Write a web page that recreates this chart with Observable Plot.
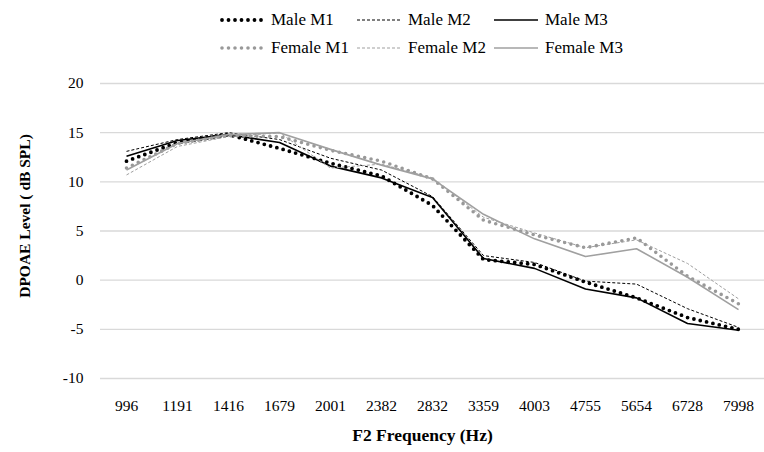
<!DOCTYPE html>
<html><head><meta charset="utf-8">
<script src="https://cdn.jsdelivr.net/npm/d3@7"></script>
<script src="https://cdn.jsdelivr.net/npm/@observablehq/plot@0.6"></script>
<style>
body{margin:0;background:#fff;font-family:'Liberation Serif','DejaVu Serif',serif;}
#legend{position:relative;width:764px;height:62px;}
.item{position:absolute;display:flex;align-items:center;font-size:17px;color:#000;white-space:nowrap;height:20px;font-family:'Liberation Serif','DejaVu Serif',serif;}
.item svg{margin-right:7px;}
svg text{font-family:'Liberation Serif','DejaVu Serif',serif;}
</style></head><body>
<div id="legend"></div><div id="chart"></div>
<script>
const frequencies = ["996","1191","1416","1679","2001","2382","2832","3359","4003","4755","5654","6728","7998"];
const yTicks = [-10,-5,0,5,10,15,20];
const maleM1   = [12.1, 14.0, 14.8, 13.4, 11.9, 10.6, 7.6, 2.1, 1.6, -0.2, -1.8, -3.8, -5.0];
const maleM2   = [13.1, 14.3, 15.0, 14.3, 12.4, 11.2, 8.5, 2.5, 1.8, -0.1, -0.4, -2.9, -4.8];
const maleM3   = [12.6, 14.2, 14.8, 14.0, 11.6, 10.4, 8.4, 2.2, 1.2, -0.9, -1.8, -4.4, -5.1];
const femaleM1 = [11.4, 13.9, 14.7, 14.6, 13.2, 12.1, 10.3, 6.1, 4.6, 3.3, 4.3, 0.4, -2.4];
const femaleM2 = [10.7, 13.6, 14.6, 15.0, 11.4, 11.8, 10.4, 6.4, 4.8, 3.3, 4.1, 1.7, -1.9];
const femaleM3 = [11.2, 13.9, 14.8, 15.0, 13.3, 11.7, 10.3, 6.7, 4.2, 2.4, 3.2, 0.3, -3.0];

const seriesNames = ["Male M1","Male M2","Male M3","Female M1","Female M2","Female M3"];
const seriesValues = [maleM1, maleM2, maleM3, femaleM1, femaleM2, femaleM3];
const styles = [
  {color:"#000", width:3.8, dash:"0,6.5", cap:"round"},
  {color:"#000", width:1, dash:"3,2", cap:"butt"},
  {color:"#000", width:1.6, dash:null, cap:"butt"},
  {color:"#999", width:3.6, dash:"0,6.5", cap:"round"},
  {color:"#9f9f9f", width:1, dash:"3,2", cap:"butt"},
  {color:"#a0a0a0", width:1.6, dash:null, cap:"butt"}
];

const data = [];
seriesNames.forEach((name, k) => seriesValues[k].forEach((v, i) => data.push({freq: frequencies[i], value: v, series: name})));

// legend
const legend = document.getElementById("legend");
const colX = [220, 357, 494];
const rowY = [10, 38];
seriesNames.forEach((name, k) => {
  const s = styles[k];
  const div = document.createElement("div");
  div.className = "item";
  div.style.left = colX[k % 3] + "px";
  div.style.top = rowY[Math.floor(k / 3)] + "px";
  div.innerHTML = `<svg width="44" height="10"><line x1="${s.cap==="round"?2:0}" y1="5" x2="44" y2="5" stroke="${s.color}" stroke-width="${s.width}" ${s.dash?`stroke-dasharray="${s.dash}"`:""} stroke-linecap="${s.cap}"/></svg><span>${name}</span>`;
  legend.appendChild(div);
});

const serif = "'Liberation Serif', 'DejaVu Serif', serif";
const chart = Plot.plot({
  width: 764, height: 390,
  marginTop: 21, marginBottom: 74, marginLeft: 100, marginRight: 0,
  style: {fontFamily: serif, fontSize: "15.5px", color: "#000", background: "#fff", overflow: "visible"},
  x: {type: "point", domain: frequencies, padding: 0.5, label: null},
  y: {domain: [-10, 20], label: null},
  marks: [
    Plot.ruleY(yTicks, {stroke: "#d9d9d9", strokeWidth: 1.4}),
    Plot.axisY(yTicks, {tickSize: 0, tickPadding: 17, label: null, tickFormat: d => String(d), fontFamily: serif}),
    Plot.axisX({tickSize: 0, tickPadding: 21, label: null, fontFamily: serif}),
    ...seriesNames.map((name, k) => Plot.line(data.filter(d => d.series === name), {
      x: "freq", y: "value", stroke: styles[k].color, strokeWidth: styles[k].width,
      strokeDasharray: styles[k].dash, strokeLinecap: styles[k].cap, strokeLinejoin: "round"
    })),
    Plot.text(["F2 Frequency (Hz)"], {frameAnchor: "bottom", dx: -10, dy: 62, fontWeight: "bold", fontSize: 17.5, fontFamily: serif}),
    Plot.text(["DPOAE Level ( dB SPL)"], {frameAnchor: "left", dx: -75, dy: -15, rotate: -90, textAnchor: "middle", fontWeight: "bold", fontSize: 15.5, fontFamily: serif})
  ]
});
document.getElementById("chart").appendChild(chart);
</script>
</body></html>
